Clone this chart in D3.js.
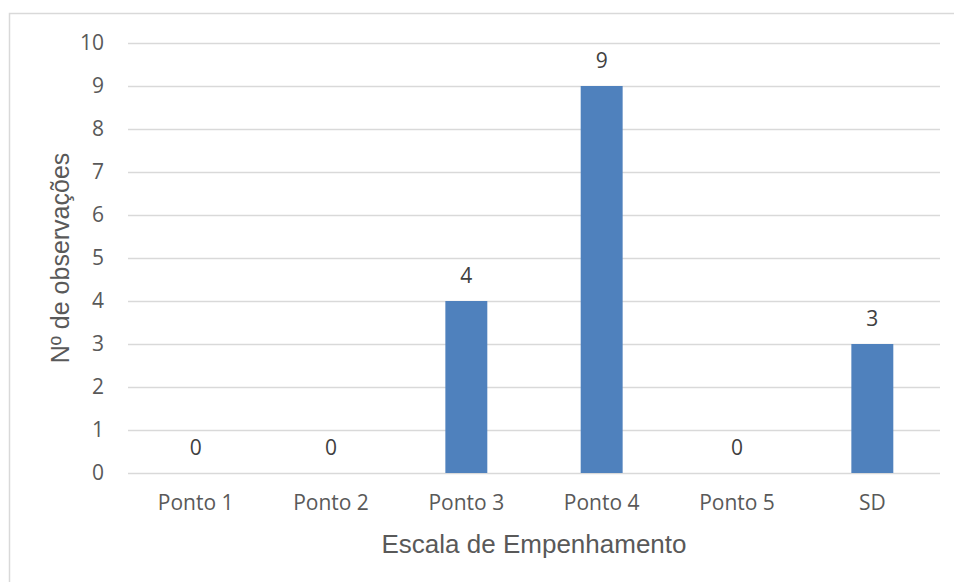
<!DOCTYPE html>
<html>
<head>
<meta charset="utf-8">
<script src="https://cdn.jsdelivr.net/npm/d3@7/dist/d3.min.js"></script>
<style>
  html, body { margin: 0; padding: 0; background: #fff; }
  svg { display: block; }
</style>
</head>
<body>
<svg id="chart"></svg>
<script>
// values
var categories = ['Ponto 1', 'Ponto 2', 'Ponto 3', 'Ponto 4', 'Ponto 5', 'SD'];
var counts = [0, 0, 4, 9, 0, 3];
var yTicks = [0, 1, 2, 3, 4, 5, 6, 7, 8, 9, 10];

var width = 954, height = 582;
var plotLeft = 128, plotRight = 940, plotTop = 43, plotBottom = 473;

var svg = d3.select('#chart')
  .attr('width', width)
  .attr('height', height);

// chart frame (continues past right and bottom edge)
svg.append('rect')
  .attr('x', 9.5).attr('y', 13.5)
  .attr('width', 1000).attr('height', 1000)
  .attr('fill', 'none')
  .attr('stroke', '#d9d9d9')
  .attr('stroke-width', 1.5);

var x = d3.scaleBand()
  .domain(categories)
  .range([plotLeft, plotRight])
  .paddingInner(0.69)
  .paddingOuter(0.345);

var y = d3.scaleLinear()
  .domain([0, 10])
  .range([plotBottom, plotTop]);

// gridlines
svg.append('g')
  .selectAll('line')
  .data(yTicks)
  .enter()
  .append('line')
  .attr('x1', plotLeft)
  .attr('x2', plotRight)
  .attr('y1', function(d){ return Math.round(y(d)) + 0.5; })
  .attr('y2', function(d){ return Math.round(y(d)) + 0.5; })
  .attr('stroke', '#d9d9d9')
  .attr('stroke-width', 1.5);

// y axis labels
var yAxis = d3.axisLeft(y).tickValues(yTicks).tickSize(0).tickPadding(24);
var gy = svg.append('g')
  .attr('transform', 'translate(' + plotLeft + ',0)')
  .call(yAxis);
gy.select('.domain').remove();
gy.selectAll('text')
  .attr('fill', '#595959')
  .style('font-family', '"Open Sans", sans-serif')
  .style('font-size', '21px');

// x axis labels
var xAxis = d3.axisBottom(x).tickSize(0).tickPadding(22);
var gx = svg.append('g')
  .attr('transform', 'translate(0,' + plotBottom + ')')
  .call(xAxis);
gx.select('.domain').remove();
gx.selectAll('text')
  .attr('fill', '#595959')
  .style('font-family', '"Open Sans", sans-serif')
  .style('font-size', '21px');

// bars
svg.append('g')
  .selectAll('rect')
  .data(categories)
  .enter()
  .append('rect')
  .attr('x', function(d){ return x(d); })
  .attr('width', x.bandwidth())
  .attr('y', function(d, i){ return y(counts[i]); })
  .attr('height', function(d, i){ return y(0) - y(counts[i]); })
  .attr('fill', '#4f81bd');

// data labels
svg.append('g')
  .selectAll('text')
  .data(categories)
  .enter()
  .append('text')
  .attr('x', function(d){ return x(d) + x.bandwidth() / 2; })
  .attr('y', function(d, i){ return y(counts[i]) - 18; })
  .attr('text-anchor', 'middle')
  .attr('fill', '#404040')
  .style('font-family', '"Open Sans", sans-serif')
  .style('font-size', '21px')
  .text(function(d, i){ return counts[i]; });

// axis titles
svg.append('text')
  .attr('x', (plotLeft + plotRight) / 2)
  .attr('y', 553)
  .attr('text-anchor', 'middle')
  .attr('fill', '#595959')
  .style('font-family', '"Liberation Sans", Arial, sans-serif')
  .style('font-size', '26px')
  .text('Escala de Empenhamento');

svg.append('text')
  .attr('transform', 'translate(69,258) rotate(-90)')
  .attr('text-anchor', 'middle')
  .attr('fill', '#595959')
  .style('font-family', '"Liberation Sans", Arial, sans-serif')
  .style('font-size', '25px')
  .text('Nº de observações');
</script>
</body>
</html>
